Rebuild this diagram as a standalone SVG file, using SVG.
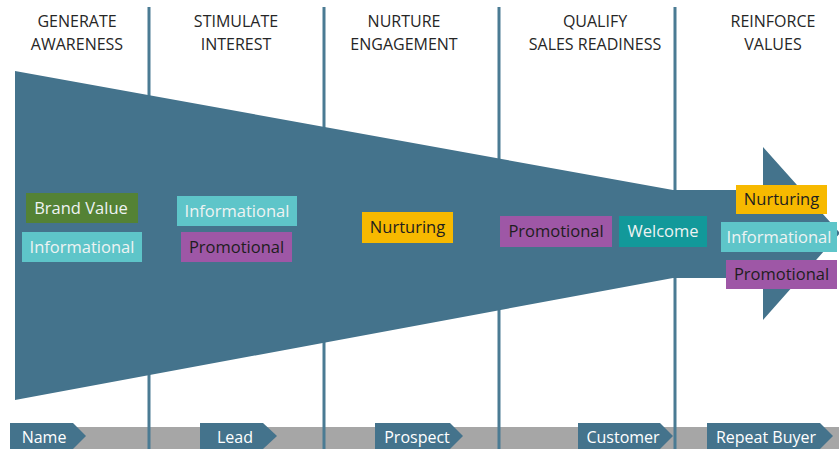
<svg xmlns="http://www.w3.org/2000/svg" width="839" height="449" viewBox="0 0 839 449">
<style>
.hdr{font-family:"Open Sans","Liberation Sans",sans-serif;font-size:16px;fill:#262626;text-anchor:middle}
.lbl{font-family:"Open Sans","Liberation Sans",sans-serif;font-size:16.5px;text-anchor:middle}
.stg{font-family:"Open Sans","Liberation Sans",sans-serif;font-size:16px;fill:#ffffff;text-anchor:middle}
.light{fill:#eef3f3}
.dark{fill:#1e1e1e}
.div{stroke:#4a7b93;stroke-width:3}
.blue{fill:#44738c}
</style>
<rect width="839" height="449" fill="#ffffff"/>
<g id="stage-bar">
<rect x="10" y="427" width="829" height="22" fill="#a6a6a6"/>
</g>
<g id="dividers">
<line class="div" x1="149" y1="7" x2="149" y2="449"/>
<line class="div" x1="324" y1="7" x2="324" y2="449"/>
<line class="div" x1="499" y1="7" x2="499" y2="449"/>
<line class="div" x1="675" y1="7" x2="675" y2="449"/>
</g>
<g id="funnel">
<polygon class="blue" points="15,71 673,190 763,190 763,147 840,233 763,320 763,278 673,278 15,400"/>
</g>
<g id="headers">
<text class="hdr" x="77" y="27">GENERATE</text>
<text class="hdr" x="77" y="50">AWARENESS</text>
<text class="hdr" x="236" y="27">STIMULATE</text>
<text class="hdr" x="236" y="50">INTEREST</text>
<text class="hdr" x="404" y="27">NURTURE</text>
<text class="hdr" x="404" y="50">ENGAGEMENT</text>
<text class="hdr" x="595" y="27">QUALIFY</text>
<text class="hdr" x="595" y="50">SALES READINESS</text>
<text class="hdr" x="773" y="27">REINFORCE</text>
<text class="hdr" x="773" y="50">VALUES</text>
</g>
<g id="brand-value">
<rect x="26" y="193" width="112" height="30" fill="#548235"/>
<text class="lbl light" x="81" y="214">Brand Value</text>
</g>
<g id="informational-1">
<rect x="22" y="232" width="120" height="30" fill="#5ec5c9"/>
<text class="lbl light" x="82" y="253">Informational</text>
</g>
<g id="informational-2">
<rect x="177" y="196" width="120" height="30" fill="#5ec5c9"/>
<text class="lbl light" x="237" y="217">Informational</text>
</g>
<g id="promotional-2">
<rect x="181" y="232" width="111" height="30" fill="#9e57a6"/>
<text class="lbl dark" x="236.5" y="253">Promotional</text>
</g>
<g id="nurturing-3">
<rect x="362" y="212" width="91" height="31" fill="#f7b900"/>
<text class="lbl dark" x="407.5" y="233">Nurturing</text>
</g>
<g id="promotional-4">
<rect x="500" y="216" width="112" height="31" fill="#9e57a6"/>
<text class="lbl dark" x="556" y="237">Promotional</text>
</g>
<g id="welcome">
<rect x="619" y="216" width="88" height="31" fill="#12999a"/>
<text class="lbl light" x="663" y="237">Welcome</text>
</g>
<g id="nurturing-5">
<rect x="736" y="185" width="91" height="29" fill="#f7b900"/>
<text class="lbl dark" x="781.5" y="205">Nurturing</text>
</g>
<g id="informational-5">
<rect x="721" y="222" width="116" height="30" fill="#5ec5c9"/>
<text class="lbl light" x="779" y="243">Informational</text>
</g>
<g id="promotional-5">
<rect x="726" y="260" width="111" height="29" fill="#9e57a6"/>
<text class="lbl dark" x="781.5" y="280">Promotional</text>
</g>
<g id="stage-name">
<polygon class="blue" points="10,423 73,423 86,436 73,449 10,449"/>
<text class="stg" x="44" y="443">Name</text>
</g>
<g id="stage-lead">
<polygon class="blue" points="200,423 263,423 277,436 263,449 200,449"/>
<text class="stg" x="235" y="443">Lead</text>
</g>
<g id="stage-prospect">
<polygon class="blue" points="375,423 450,423 463,436 450,449 375,449"/>
<text class="stg" x="417" y="443">Prospect</text>
</g>
<g id="stage-customer">
<polygon class="blue" points="578,423 660,423 673,436 660,449 578,449"/>
<text class="stg" x="623" y="443">Customer</text>
</g>
<g id="stage-repeat-buyer">
<polygon class="blue" points="707,423 820,423 833,436 820,449 707,449"/>
<text class="stg" x="766" y="443">Repeat Buyer</text>
</g>
</svg>
